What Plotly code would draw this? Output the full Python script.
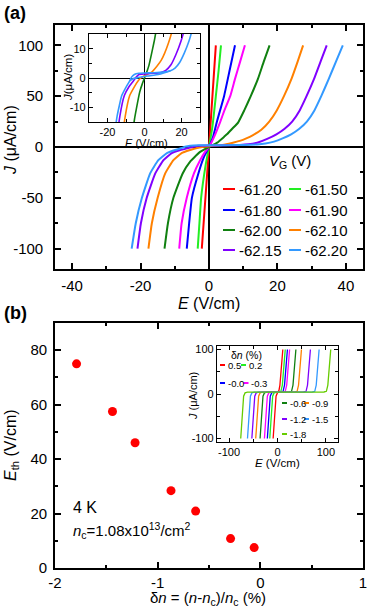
import plotly.graph_objects as go

W, H = 375, 612


def px(x):
    return x / W


def py(y):
    return 1 - y / H


# ---- panel (a): J-E curves for several gate voltages ----
VG_LABELS = ["-61.20", "-61.50", "-61.80", "-61.90", "-62.00", "-62.10", "-62.15", "-62.20"]
COLORS_A = ["#ff0000", "#22ee22", "#0000ff", "#ff00ff", "#108010", "#ff8000", "#8000ff", "#3399ff"]

E_6120 = [-2.1, -1.0, 0, 1.0, 2.0]
J_6120 = [-100, -48, 0, 50, 100]
E_6150 = [-3.3, -2.8, -2.3, -1.0, 0, 1.0, 2.0, 2.8, 3.5]
J_6150 = [-100, -75, -50, -18, 0, 20, 50, 75, 100]
E_6180 = [-6.5, -5.8, -5.0, -3.1, -1.5, 0, 1.2, 2.4, 4.4, 6.0, 7.6]
J_6180 = [-100, -75, -50, -26, -10, 0, 10, 26, 50, 75, 100]
E_6190 = [-8.7, -8.0, -6.5, -4.4, -2.6, -1.2, 0, 1.5, 3.2, 4.5, 6.2, 7.6, 9.1, 10.5]
J_6190 = [-100, -75, -50, -26, -13, -5, 0, 10, 24, 36, 50, 67, 84, 100]
E_6200 = [-13.0, -12.0, -10.4, -7.7, -5.4, -4.4, -2.6, -1.2, 0, 1.2, 2.4, 4.4, 5.4, 6.8,
          8.5, 10.3, 12.2, 14.3, 16.0, 17.7]
J_6200 = [-100, -75, -50, -26, -14, -10.5, -4.8, -2, 0, 2, 4.3, 10, 13, 18,
          24, 36, 50, 67, 84, 100]
E_6210 = [-17.7, -16.7, -15.0, -12.8, -10.4, -8.0, -5.5, -3.5, -2.0, 0, 3.9, 6.7, 9.0,
          10.9, 13.0, 15.3, 17.6, 19.8, 21.9, 24.1, 25.9, 27.5]
J_6210 = [-100, -75, -50, -26, -13, -6, -3, -1, 0, 0.8, 2, 4.0, 6,
          8.5, 12, 17, 25, 36, 50, 67, 84, 100]
E_6215 = [-20.9, -19.9, -18.2, -15.7, -13.3, -10.9, -8.4, -6.0, -4.5, -3.0, 0, 5.0, 9.0,
          11.5, 14.3, 17.0, 19.7, 22.1, 24.3, 26.5, 28.5, 30.7, 32.6, 34.4]
J_6215 = [-100, -75, -50, -26, -13, -6, -3, -1, 0.3, 1.2, 1.4, 1.6, 1.9,
          2.6, 4.5, 8, 12.5, 18, 25, 36, 50, 67, 84, 100]
E_6220 = [-22.6, -21.4, -19.6, -17.2, -14.8, -12.3, -9.9, -8.0, -7.0, -5.5, -3.0, 0, 5.0,
          10.0, 14.0, 16.5, 19.0, 21.5, 24.0, 26.4, 28.6, 30.8, 32.8, 35.0, 37.1, 39.1]
J_6220 = [-100, -75, -50, -26, -13, -6, -3, -1, 0.3, 1.2, 1.6, 1.7, 1.8,
          2.0, 2.5, 3.4, 5.3, 8.5, 12.5, 18, 25, 36, 50, 67, 84, 100]
# return sweep of -62.20 V (hysteresis loop seen in the inset)
E_6220_BACK = [14.0, 8.0, 2.0, -3.0, -6.0, -8.0]
J_6220_BACK = [2.5, 1.3, 0.7, 0.2, -0.2, -1.0]

CURVES_A = [(E_6120, J_6120), (E_6150, J_6150), (E_6180, J_6180), (E_6190, J_6190),
            (E_6200, J_6200), (E_6210, J_6210), (E_6215, J_6215), (E_6220, J_6220)]

# ---- panel (b): threshold field vs density deviation ----
DN = [-1.79, -1.44, -1.22, -0.87, -0.63, -0.29, -0.06]
ETH = [75, 57.5, 46, 28.4, 20.9, 10.8, 7.5]

DN_LABELS = ["0.5", "0.2", "-0.0", "-0.3", "-0.6", "-0.9", "-1.2", "-1.5", "-1.8"]
COLORS_B = ["#ff0000", "#22ee22", "#0000ff", "#ff00ff", "#108010", "#ff8000",
            "#8000ff", "#3399ff", "#66cc00"]
J_B = [-100, -60, -25, -5, 2.5, 4, 4.5, 6, 20, 50, 100]
J_B05 = [-100, -60, -25, -5, 3, 8, 20, 50, 100]
E_B05 = [-9, -7, -5, -3, 0, 3, 5, 7, 11]
E_B02 = [-16, -14, -12, -10, -7, -2, 2, 7, 10, 12, 16]
E_B00 = [-21, -19, -17, -15, -12, -7, 6.5, 11.5, 14.5, 16.5, 20.5]
E_B03 = [-27, -25, -23, -21, -18, -13, 11, 16, 19, 21, 25]
E_B06 = [-36, -34, -32, -30, -27, -22, 24, 29, 32, 34, 38]
E_B09 = [-45, -43, -41, -39, -36, -31, 35.5, 40.5, 43.5, 45.5, 49.5]
E_B12 = [-53, -51, -49, -47, -44, -39, 54, 59, 62, 64, 68]
E_B15 = [-62, -60, -58, -56, -53, -48, 72, 77, 80, 82, 86]
E_B18 = [-76, -74, -72, -70, -67, -62, 96, 101, 104, 106, 110]

CURVES_B = [(E_B05, J_B05), (E_B02, J_B), (E_B00, J_B), (E_B03, J_B), (E_B06, J_B),
            (E_B09, J_B), (E_B12, J_B), (E_B15, J_B), (E_B18, J_B)]

FONT = "Liberation Sans, Arial, sans-serif"

fig = go.Figure()

for (e, j), c in zip(CURVES_A, COLORS_A):
    fig.add_trace(go.Scatter(x=e, y=j, mode="lines", line=dict(color=c, width=2,
                             shape="spline", smoothing=0.4),
                             xaxis="x", yaxis="y", showlegend=False, hoverinfo="skip"))

# inset (a): the four widest curves, zoomed
for (e, j), c in list(zip(CURVES_A, COLORS_A))[4:]:
    fig.add_trace(go.Scatter(x=e, y=j, mode="lines", line=dict(color=c, width=1.6,
                             shape="spline", smoothing=0.4),
                             xaxis="x2", yaxis="y2", showlegend=False, hoverinfo="skip"))
fig.add_trace(go.Scatter(x=E_6220_BACK, y=J_6220_BACK, mode="lines",
                         line=dict(color=COLORS_A[7], width=1.6, shape="spline", smoothing=0.4),
                         xaxis="x2", yaxis="y2", showlegend=False, hoverinfo="skip"))

fig.add_trace(go.Scatter(x=DN, y=ETH, mode="markers",
                         marker=dict(color="#ff0000", size=9),
                         xaxis="x3", yaxis="y3", showlegend=False, hoverinfo="skip"))

for (e, j), c in zip(CURVES_B, COLORS_B):
    fig.add_trace(go.Scatter(x=e, y=j, mode="lines", line=dict(color=c, width=1.3),
                             xaxis="x4", yaxis="y4", showlegend=False, hoverinfo="skip"))


def axis(domain, anchor, rng, vals, texts, minor, small=False, zero=False, size=15,
         standoff=0):
    return dict(
        domain=domain, anchor=anchor, range=rng, automargin=False,
        tickmode="array", tickvals=vals, ticktext=texts,
        ticks="inside", ticklen=4 if small else 6,
        tickwidth=1.2 if small else 1.5, tickcolor="black",
        minor=dict(ticks="inside", ticklen=2.5 if small else 3.5,
                   tick0=0, dtick=minor, tickwidth=1.2 if small else 1.5,
                   tickcolor="black", showgrid=False),
        showline=True, linecolor="black", linewidth=1.2 if small else 1.6,
        mirror="allticks", showgrid=False, zeroline=zero, zerolinecolor="black",
        zerolinewidth=1.2 if small else 1.6,
        tickfont=dict(size=size, family=FONT, color="black"),
        ticklabelstandoff=standoff, fixedrange=True,
    )


layout_axes = dict(
    xaxis=axis([px(55), px(363)], "y", [-45, 45], [-40, -20, 0, 20, 40],
               ["-40", "-20", "0", "20", "40"], 10, zero=True, standoff=2),
    yaxis=axis([py(269), py(25)], "x", [-120, 120], [-100, -50, 0, 50, 100],
               ["-100", "-50", "0", "50", "100"], 25, zero=True, standoff=7),
    xaxis2=axis([px(89), px(200)], "y2", [-30, 30], [-20, 0, 20], ["-20", "0", "20"],
                10, small=True, zero=True, size=11),
    yaxis2=axis([py(122), py(34)], "x2", [-15, 15], [-10, 0, 10], ["-10", "0", "10"],
                5, small=True, zero=True, size=11),
    xaxis3=axis([px(55), px(363)], "y3", [-2, 1], [-2, -1, 0, 1], ["-2", "-1", "0", "1"], 0.5),
    yaxis3=axis([py(568), py(323)], "x3", [0, 90], [0, 20, 40, 60, 80],
                ["0", "20", "40", "60", "80"], 10, standoff=3),
    xaxis4=axis([px(217), px(338)], "y4", [-125, 125], [-100, 0, 100], ["-100", "0", "100"],
                50, small=True, size=11),
    yaxis4=axis([py(442), py(346)], "x4", [-108, 108], [-100, 0, 100], ["-100", "0", "100"],
                50, small=True, size=11),
)

ann = []
shapes = []


def text(x, y, s, size=15, anchor="center", angle=0, bold=False):
    ann.append(dict(x=px(x), y=py(y), xref="paper", yref="paper", text=s, showarrow=False,
                    xanchor=anchor, yanchor="middle", textangle=angle,
                    font=dict(size=size, family=FONT, color="black",
                              weight="bold" if bold else "normal")))


text(2, 13, "(a)", 18, "left", bold=True)
text(2, 313, "(b)", 18, "left", bold=True)
text(11, 140, "<i>J</i> (μA/cm)", 16, angle=-90)
text(209, 303, "<i>E</i> (V/cm)", 16)
text(68, 78, "<i>J</i>(μA/cm)", 11.5, angle=-90)
text(146, 143, "<i>E</i> (V/cm)", 11)
text(290, 162, "<i>V</i><sub>G</sub> (V)", 15)
text(208, 598, "δ<i>n</i> = (<i>n</i>-<i>n</i><sub>c</sub>)/<i>n</i><sub>c</sub> (%)", 15)
text(11, 445, "<i>E</i><sub>th</sub> (V/cm)", 16, angle=-90)
text(71, 507, "4 K", 16, "left")
text(71, 530, "<i>n</i><sub>c</sub>=1.08x10<sup>13</sup>/cm<sup>2</sup>", 15, "left")
text(193, 396, "<i>J</i> (μA/cm)", 11, angle=-90)
text(277, 463, "<i>E</i> (V/cm)", 11.5)
text(246, 355, "δ<i>n</i> (%)", 10.5)

# legend of panel (a): two columns
LEG_A_ROWS = [189, 210, 230, 250]
LEG_A_COLS = [223, 289]
for i, (lab, c) in enumerate(zip(VG_LABELS, COLORS_A)):
    r, k = divmod(i, 2)
    x0, y0 = LEG_A_COLS[k], LEG_A_ROWS[r]
    shapes.append(dict(type="line", xref="paper", yref="paper", x0=px(x0), x1=px(x0 + 12),
                       y0=py(y0), y1=py(y0), line=dict(color=c, width=2)))
    text(x0 + 14, y0, lab, 15, "left")

# legend of inset (b)
LEG_B_POS = [(220, 365), (241, 365), (220, 383), (243.5, 383),
             (282, 403), (304, 403), (282, 419), (304, 419), (282, 434)]
for (x0, y0), lab, c in zip(LEG_B_POS, DN_LABELS, COLORS_B):
    shapes.append(dict(type="line", xref="paper", yref="paper", x0=px(x0), x1=px(x0 + 5),
                       y0=py(y0), y1=py(y0), line=dict(color=c, width=2)))
    text(x0 + 5.5, y0, lab, 9.5, "left")

fig.update_layout(
    width=W, height=H, margin=dict(l=0, r=0, t=0, b=0, autoexpand=False),
    paper_bgcolor="white", plot_bgcolor="white",
    font=dict(family=FONT, color="black"),
    annotations=ann, shapes=shapes, showlegend=False,
    **layout_axes,
)

fig.write_html("out.html", config={"displayModeBar": False},
               post_script="document.body.style.margin='0px';")
